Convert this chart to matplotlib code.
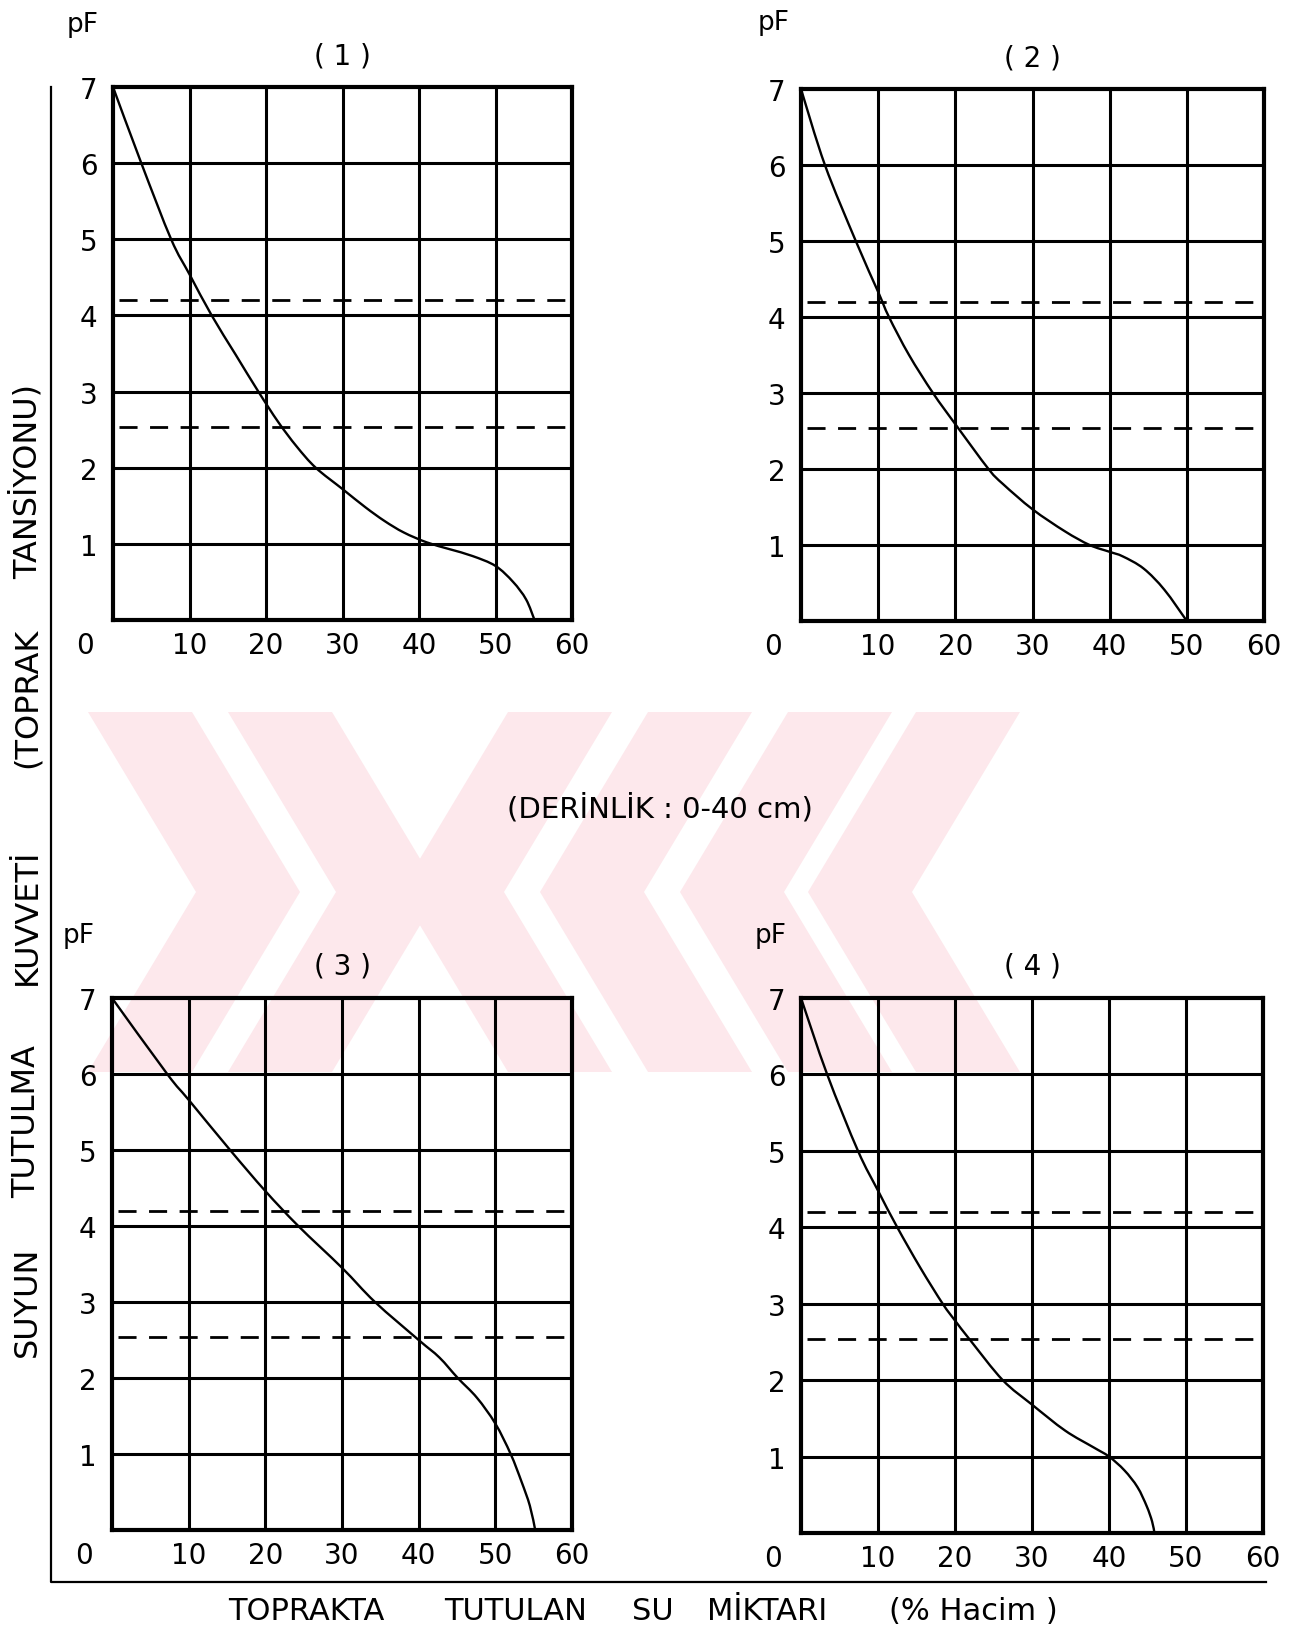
import matplotlib
matplotlib.use("Agg")
import matplotlib.pyplot as plt
from matplotlib.lines import Line2D
from matplotlib.path import Path
from matplotlib.patches import PathPatch, Polygon

W, H, DPI = 1301, 1633, 100

# Axis ticks (pF and % water by volume)
pf_ticks = [1, 2, 3, 4, 5, 6, 7]
water_ticks = [10, 20, 30, 40, 50, 60]

# Reference tension levels: wilting point and field capacity
wilting_pf = 4.2
field_pf = 2.54

# Retention curves, one per soil (water % by volume, pF)
soil1_water = [0, 3.7, 7.6, 10, 12.9, 16, 19.0, 21.6, 24, 26.5, 30, 33, 35.5, 38, 41, 44, 47, 50, 52.3, 54, 55.1]
soil1_pf = [7, 6, 5, 4.54, 4.0, 3.49, 3.0, 2.6, 2.28, 2.0, 1.72, 1.48, 1.3, 1.15, 1.02, 0.93, 0.84, 0.71, 0.5, 0.27, 0]

soil2_water = [0, 3.1, 7.1, 10, 11.4, 14, 17.1, 20, 24.3, 26.2, 30, 34.2, 37.4, 40, 41.7, 44.4, 47.1, 50]
soil2_pf = [7, 6, 5, 4.33, 4.0, 3.5, 3.0, 2.59, 2.0, 1.8, 1.47, 1.18, 1.0, 0.91, 0.85, 0.69, 0.41, 0]

soil3_water = [0, 7.2, 10, 15.4, 20, 24.3, 30, 34.3, 40, 42.7, 45.1, 47.6, 50, 52.0, 53.4, 54.5, 55.2]
soil3_pf = [7, 6.0, 5.66, 5.0, 4.46, 4.0, 3.45, 3.0, 2.5, 2.27, 2.0, 1.74, 1.40, 1.0, 0.64, 0.32, 0]

soil4_water = [0, 3.4, 7.4, 10, 12.5, 15.5, 18.4, 20, 22, 26.2, 30, 34.3, 38, 40, 42, 43.7, 44.9, 45.6, 45.9]
soil4_pf = [7, 6, 5, 4.48, 4.0, 3.47, 3.0, 2.78, 2.52, 2.0, 1.68, 1.34, 1.12, 1.0, 0.82, 0.6, 0.35, 0.15, 0]

panel_titles = ["( 1 )", "( 2 )", "( 3 )", "( 4 )"]
curves = [(soil1_water, soil1_pf), (soil2_water, soil2_pf),
          (soil3_water, soil3_pf), (soil4_water, soil4_pf)]

# panel boxes in pixels: left, top, right, bottom
boxes = [(113, 88, 572, 621), (801, 90, 1264, 622),
         (112, 999, 572, 1531), (801, 999, 1263, 1534)]
pf_label_pos = [(83, 25), (774, 23), (79, 936), (771, 936)]

plt.rcParams["font.family"] = ["DejaVu Sans"]

fig = plt.figure(figsize=(W / DPI, H / DPI), dpi=DPI)
fig.patch.set_facecolor("white")


def fx(px):
    return px / W


def fy(py):
    return 1 - py / H


def smooth_path(xs, ys):
    """Catmull-Rom curve through the points, as cubic Bezier segments."""
    pts = list(zip(xs, ys))
    verts = [pts[0]]
    codes = [Path.MOVETO]
    n = len(pts)
    for i in range(n - 1):
        p0 = pts[i - 1] if i > 0 else pts[i]
        p1 = pts[i]
        p2 = pts[i + 1]
        p3 = pts[i + 2] if i + 2 < n else pts[i + 1]
        c1 = (p1[0] + (p2[0] - p0[0]) / 6, p1[1] + (p2[1] - p0[1]) / 6)
        c2 = (p2[0] - (p3[0] - p1[0]) / 6, p2[1] - (p3[1] - p1[1]) / 6)
        verts += [c1, c2, p2]
        codes += [Path.CURVE4] * 3
    return Path(verts, codes)


# pale chevron emblem behind the page (pixel coordinates)
bg = fig.add_axes([0, 0, 1, 1], zorder=-10)
bg.set_xlim(0, W)
bg.set_ylim(H, 0)
bg.axis("off")
band_top, band_bot = 713, 1073
mid = (band_top + band_bot) / 2
half = (band_bot - band_top) / 2
slope, width = 0.6, 104
pink = "#fde8ec"
run = slope * half
for v in (300, 440):            # chevrons pointing right
    bg.add_patch(Polygon([(v - run - width, band_top), (v - run, band_top), (v, mid),
                          (v - run, band_bot), (v - run - width, band_bot), (v - width, mid)],
                         closed=True, fc=pink, ec="none"))
for v in (400, 540, 680, 808):  # chevrons pointing left
    bg.add_patch(Polygon([(v + run + width, band_top), (v + run, band_top), (v, mid),
                          (v + run, band_bot), (v + run + width, band_bot), (v + width, mid)],
                         closed=True, fc=pink, ec="none"))

for (x0, y0, x1, y1), title, (wx, pfv), (plx, ply) in zip(boxes, panel_titles, curves, pf_label_pos):
    ax = fig.add_axes([fx(x0), fy(y1), (x1 - x0) / W, (y1 - y0) / H])
    ax.set_xlim(0, 60)
    ax.set_ylim(0, 7)
    for v in water_ticks[:-1]:
        ax.axvline(v, color="black", lw=2.2, zorder=1)
    for p in pf_ticks[:-1]:
        ax.axhline(p, color="black", lw=2.2, zorder=1)
    for lvl in (wilting_pf, field_pf):
        ax.plot([0.8, 59.2], [lvl, lvl], color="black", lw=2.0,
                linestyle=(0, (6.5, 4.5)), zorder=2)
    ax.add_patch(PathPatch(smooth_path(wx, pfv), facecolor="none",
                           edgecolor="black", lw=1.7, zorder=3))
    for s in ax.spines.values():
        s.set_linewidth(3.0)
        s.set_color("black")
    ax.set_xticks(water_ticks)
    ax.set_yticks(pf_ticks)
    ax.tick_params(length=0, labelsize=20, pad=8)
    ax.tick_params(axis="y", pad=11)
    ax.set_facecolor("none")
    # origin label shared by both axes
    fig.text(fx(x0 - 28), fy(y1 + 25), "0", fontsize=20, ha="center", va="center")
    fig.text(fx((x0 + x1) / 2), fy(y0 - 32), title, fontsize=20, ha="center", va="center")
    fig.text(fx(plx), fy(ply), "pF", fontsize=19, ha="center", va="center")

# outer frame with the common axis titles
fig.add_artist(Line2D([fx(51), fx(51), fx(1266)], [fy(88), fy(1583), fy(1583)],
                      color="black", lw=1.6))

fig.text(fx(660), fy(809), "(DERİNLİK : 0-40 cm)", fontsize=21, ha="center", va="center")

bottom_words = [("TOPRAKTA", 306), ("TUTULAN", 516), ("SU", 653), ("MİKTARI", 767), ("(% Hacim )", 973)]
for word, cx in bottom_words:
    fig.text(fx(cx), fy(1612), word, fontsize=22, ha="center", va="center")

left_words = [("SUYUN", 1302), ("TUTULMA", 1122), ("KUVVETİ", 917), ("(TOPRAK", 698), ("TANSİYONU)", 482)]
for word, cy in left_words:
    fig.text(fx(27), fy(cy), word, fontsize=23, ha="center", va="center", rotation=90)

fig.savefig("out.png", dpi=DPI, facecolor="white")
